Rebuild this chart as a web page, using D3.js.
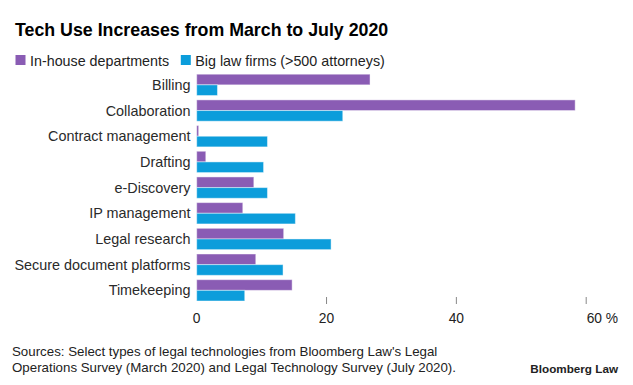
<!DOCTYPE html>
<html><head><meta charset="utf-8">
<script src="https://cdn.jsdelivr.net/npm/d3@7"></script>
<style>
body{margin:0;background:#fff;}
svg{display:block;font-family:"Liberation Sans",Arial,sans-serif;}
</style></head>
<body><svg id="c" width="633" height="385"></svg>
<script>
const categories = ["Billing","Collaboration","Contract management","Drafting","e-Discovery","IP management","Legal research","Secure document platforms","Timekeeping"];
const seriesNames = ["In-house departments","Big law firms (>500 attorneys)"];
const inHouse = [26.7, 58.3, 0.3, 1.4, 8.8, 7.1, 13.4, 9.1, 14.7];
const bigLaw = [3.2, 22.5, 10.9, 10.3, 10.9, 15.2, 20.7, 13.3, 7.4];
const tickValues = [0, 20, 40, 60];
const tickLabels = ["0", "20", "40", "60 %"];
const colors = ["#8a5cb4", "#0c9ddb"];
const title = "Tech Use Increases from March to July 2020";
const sourceLines = ["Sources: Select types of legal technologies from Bloomberg Law's Legal","Operations Survey (March 2020) and Legal Technology Survey (July 2020)."];

const svg = d3.select("#c");
const x = d3.scaleLinear().domain([0, 60]).range([196.7, 586.2]);
const y = d3.scaleBand().domain(categories).range([74.2, 301]).paddingInner(0.17).paddingOuter(0);
const ys = d3.scaleBand().domain([0,1]).range([0, y.bandwidth()]);

svg.append("text").attr("x", 15).attr("y", 36).attr("font-size", 17.8).attr("font-weight", "bold").attr("fill", "#000").text(title);

// legend
const leg = svg.append("g");
const legX = [15.5, 180.8];
seriesNames.forEach((s, i) => {
  leg.append("rect").attr("x", legX[i]).attr("y", 55).attr("width", 10).attr("height", 10).attr("fill", colors[i]);
  leg.append("text").attr("x", legX[i] + 14.5).attr("y", 65.5).attr("font-size", 14.3).attr("fill", "#222").text(s);
});

// bars
const data = [inHouse, bigLaw];
const g = svg.append("g");
categories.forEach((c, ci) => {
  data.forEach((arr, si) => {
    g.append("rect")
      .attr("x", x(0))
      .attr("y", y(c) + ys(si))
      .attr("width", Math.max(0, x(arr[ci]) - x(0)))
      .attr("height", ys.bandwidth())
      .attr("fill", colors[si])
      .attr("stroke", "rgba(255,255,255,0.45)")
      .attr("stroke-width", 1);
  });
  svg.append("text").attr("x", 190.5).attr("y", y(c) + y.bandwidth()/2 + 5)
    .attr("text-anchor", "end").attr("font-size", 14.4).attr("fill", "#2a2a2a").text(c);
});

// axis
const ax = svg.append("g");
tickValues.forEach((t, i) => {
  if (t !== 0) {
    ax.append("line").attr("x1", x(t)).attr("x2", x(t)).attr("y1", 297).attr("y2", 304).attr("stroke", "#888").attr("stroke-width", 1);
  }
  const last = i === tickValues.length - 1;
  ax.append("text").attr("x", last ? x(t) + 0.5 : x(t)).attr("y", 322.5)
    .attr("text-anchor", last ? "start" : "middle").attr("font-size", 13.8).attr("fill", "#222").text(tickLabels[i]);
});

// footer
sourceLines.forEach((l, i) => {
  svg.append("text").attr("x", 12).attr("y", 356 + i * 15.5).attr("font-size", 13.3).attr("fill", "#222").text(l);
});
svg.append("text").attr("x", 618).attr("y", 373).attr("text-anchor", "end").attr("font-size", 11.7).attr("font-weight", "bold").attr("fill", "#222").text("Bloomberg Law");
</script></body></html>
